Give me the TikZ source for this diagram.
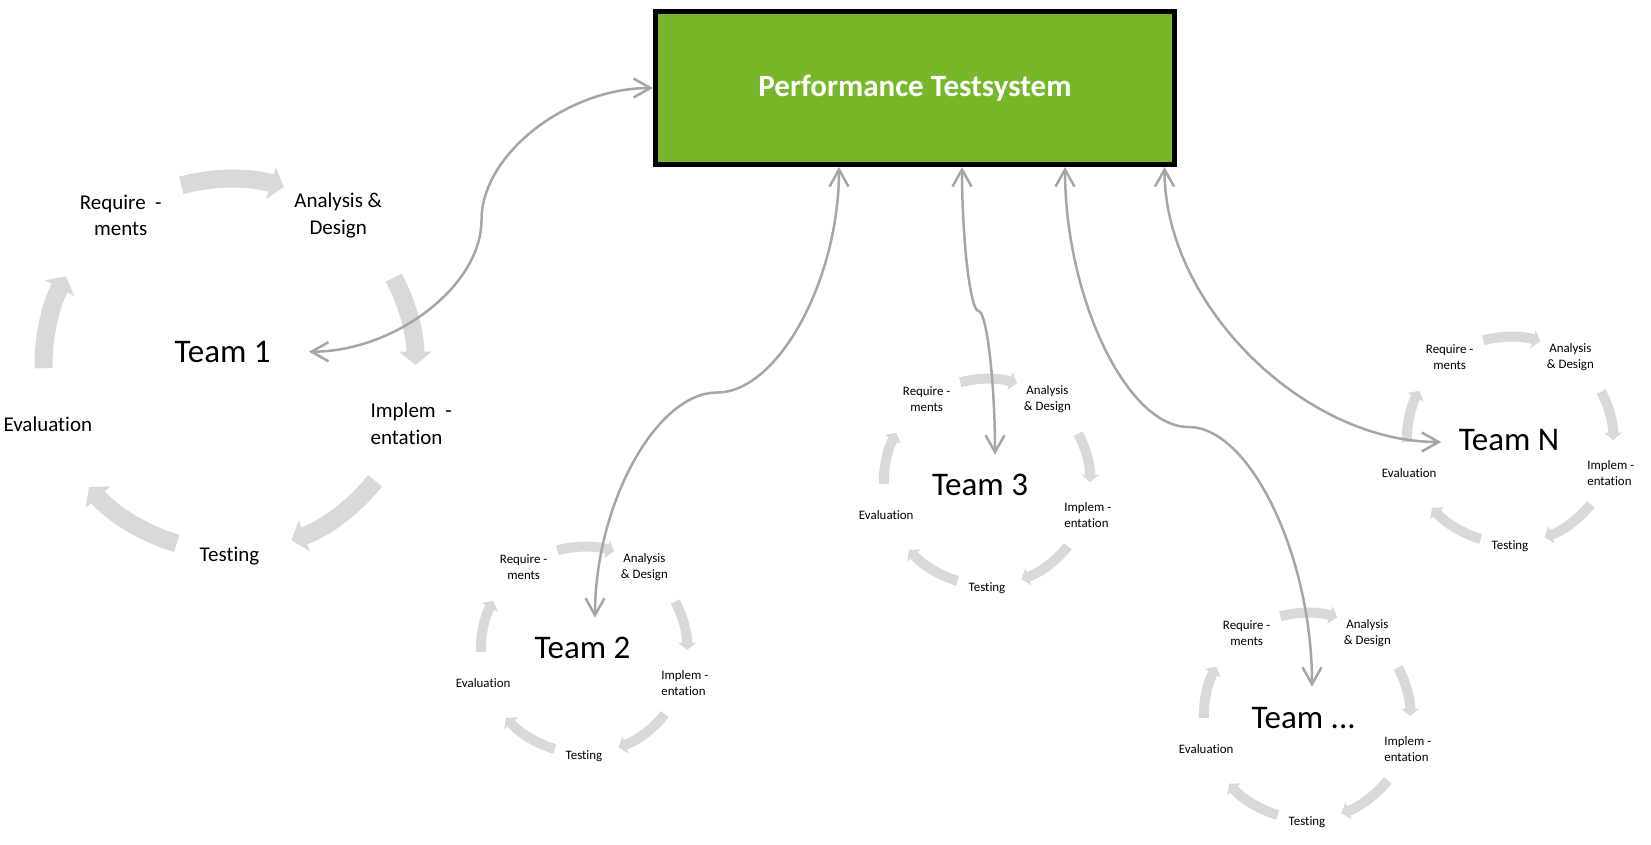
\documentclass[tikz,border=0pt]{standalone}
\usepackage{fontspec}
\setmainfont{Carlito}[Ligatures=NoCommon]
\usetikzlibrary{arrows.meta}
\definecolor{boxgreen}{RGB}{118,184,42}
\definecolor{cycgray}{RGB}{217,217,217}
\definecolor{linkgray}{RGB}{166,166,166}
\begin{document}
\begin{tikzpicture}[x=1pt,y=1pt,
  cyc/.style={draw=cycgray,-{Triangle[length=0pt 0.75,width=0pt 1.8]}},
  lbl/.style={align=center,inner sep=0pt},
  team/.style={inner sep=0pt,font=\fontsize{33}{40}\selectfont},
  link/.style={draw=linkgray,line width=2.5pt,{Straight Barb[length=17pt,width=19pt]}-{Straight Barb[length=17pt,width=19pt]}}]
\useasboundingbox (0,0) rectangle (1651,-844);
\node[draw=black,line width=5pt,fill=boxgreen,minimum width=519pt,minimum height=153pt,text=white,font=\bfseries\fontsize{31}{37}\selectfont] (box) at (915,-88) {Performance Testsystem};
\begin{scope}[shift={(229.5,-365)},font=\fontsize{21}{26.5}\selectfont]
\draw[cyc,line width=18pt] (105:186) arc[start angle=105,end angle=73,radius=186];
\draw[cyc,line width=18pt] (28:186) arc[start angle=28,end angle=0,radius=186];
\draw[cyc,line width=18pt] (-38.5:186) arc[start angle=-38.5,end angle=-70.5,radius=186];
\draw[cyc,line width=18pt] (-106.5:186) arc[start angle=-106.5,end angle=-139,radius=186];
\draw[cyc,line width=18pt] (181:186) arc[start angle=181,end angle=151.5,radius=186];
\node[lbl] (req1) at (126:185) {Require\ \ -\\ments};
\node[lbl] (ana1) at (54:185) {Analysis \&\\Design};
\node[lbl,align=left] (imp1) at (-18:191) {Implem\ \ -\\entation};
\node[lbl] (tes1) at (-90:191) {Testing};
\node[lbl] (eva1) at (198:191) {Evaluation};
\end{scope}
\foreach \cx/\cy/\tn in {584/-650/2,987/-482/3,1307/-716/4,1510/-440/5}{
\begin{scope}[shift={(\cx,\cy)},font=\fontsize{12.9}{16}\selectfont]
\draw[cyc,line width=10pt] (105:103.2) arc[start angle=105,end angle=73,radius=103.2];
\draw[cyc,line width=10pt] (28:103.2) arc[start angle=28,end angle=0,radius=103.2];
\draw[cyc,line width=10pt] (-38.5:103.2) arc[start angle=-38.5,end angle=-70.5,radius=103.2];
\draw[cyc,line width=10pt] (-106.5:103.2) arc[start angle=-106.5,end angle=-139,radius=103.2];
\draw[cyc,line width=10pt] (181:103.2) arc[start angle=181,end angle=151.5,radius=103.2];
\node[lbl] (req\tn) at (126:102.7) {Require -\\ments};
\node[lbl] (ana\tn) at (54:102.7) {Analysis\\\& Design};
\node[lbl,align=left] (imp\tn) at (-18:106) {Implem -\\entation};
\node[lbl] (tes\tn) at (-90:106) {Testing};
\node[lbl] (eva\tn) at (198:106) {Evaluation};
\end{scope}
}
\node[team] (t1) at (222.7,-351.7) {Team 1};
\node[team] (t2) at (582.5,-648) {Team 2};
\node[team] (t3) at (980,-485.4) {Team 3};
\node[team] (tdots) at (1303.6,-718) {Team ...};
\node[team] (tN) at (1509,-440) {Team N};
\coordinate (m1) at (481.5,-220);
\coordinate (m2) at (717,-392.5);
\coordinate (m3) at (978.5,-311);
\coordinate (m4) at (1188.5,-427);
\draw[link] (box.west) .. controls +(-85.75,0) and +(0,66) .. (m1) .. controls +(0,-66) and +(85.75,0) .. ([xshift=38pt]t1.east);
\draw[link] ([xshift=-76pt]box.south) .. controls +(0,-112.75) and +(61,0) .. (m2) .. controls +(-61,0) and +(0,112.75) .. ([xshift=12.5pt,yshift=19.3pt]t2.north);
\draw[link] ([xshift=47pt]box.south) .. controls +(0,-72) and +(-8.25,0) .. (m3) .. controls +(8.25,0) and +(0,72) .. ([xshift=15pt,yshift=19.7pt]t3.north);
\draw[link] ([xshift=150pt]box.south) .. controls +(0,-130) and +(-61.75,0) .. (m4) .. controls +(61.75,0) and +(0,130) .. ([xshift=8.4pt,yshift=20.3pt]tdots.north);
\draw[link] ([xshift=249.5pt]box.south) .. controls +(0,-137.5) and +(-137.75,0) .. ([xshift=-17.3pt,yshift=-2pt]tN.west);
\end{tikzpicture}
\end{document}
